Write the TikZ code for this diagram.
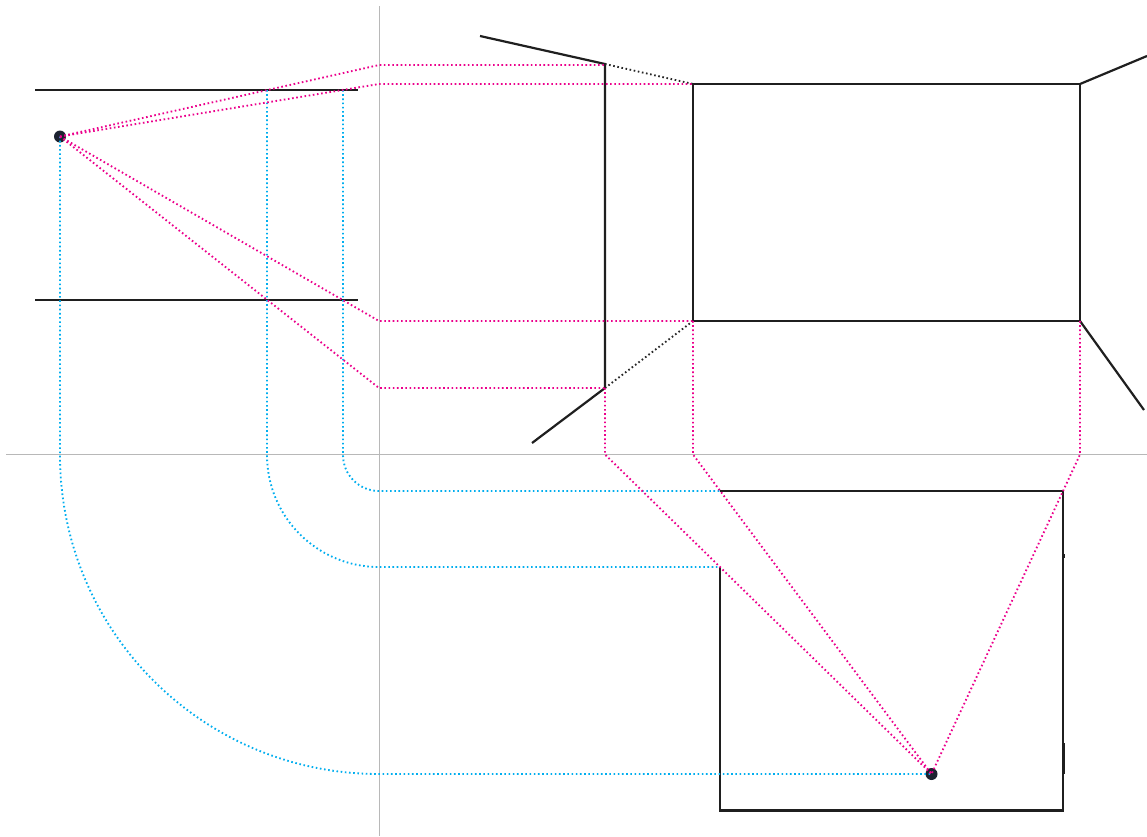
\documentclass[tikz,border=0pt]{standalone}
\tikzset{
  axisline/.style={draw=black!28,line width=0.8pt},
  solidline/.style={draw=black!88,line width=2.2pt,line cap=butt,line join=miter},
  dotbase/.style={line width=1.85pt,dash pattern=on 1.6pt off 2.6pt},
  pinkdots/.style={dotbase,draw=pinkc},
  bluedots/.style={dotbase,draw=bluec},
  blackdots/.style={dotbase,draw=black!85},
  eye/.style={circle,fill=eyec,inner sep=0pt,minimum size=12pt},
}
\definecolor{pinkc}{HTML}{EC008C}
\definecolor{bluec}{HTML}{00AEEF}
\definecolor{eyec}{HTML}{1C2230}
\begin{document}
\begin{tikzpicture}[x=1pt,y=-1pt]
\useasboundingbox (0,0) rectangle (1147,836);
\fill[white] (0,0) rectangle (1147,836);
% key points
\coordinate (P) at (60,136.5);
\coordinate (S) at (931.5,774);
\coordinate (t1) at (379,65);
\coordinate (t2) at (379,84);
\coordinate (t3) at (379,321);
\coordinate (t4) at (379,388);
\coordinate (w1) at (605,64);
\coordinate (w1p) at (605,65);
\coordinate (w2) at (605,388);
\coordinate (r1) at (693,84);
\coordinate (r2) at (1080,84);
\coordinate (r3) at (1080,321);
\coordinate (r4) at (693,321);
\coordinate (g1) at (605,454.5);
\coordinate (g2) at (693,454.5);
\coordinate (g3) at (1080,454.5);
\coordinate (v1) at (267,90);
\coordinate (v2) at (343,90);
\coordinate (a0) at (60,455);
\coordinate (a1) at (267,455);
\coordinate (a2) at (343,455);
\coordinate (f1) at (720,491);
\coordinate (f2) at (720,567);
\coordinate (f3) at (1063,491);
\coordinate (f4) at (1063,810.5);
\coordinate (f5) at (720,810.5);
% axes
\draw[axisline] (379,6) -- (379,836);
\draw[axisline] (6,454.5) -- (1147,454.5);
% solid lines
\draw[solidline] (35,90) -- (358,90);
\draw[solidline] (35,300) -- (358,300);
\draw[solidline] (480,36) -- (w1) -- (w2) -- (532,443);
\draw[solidline] (r1) -- (r2) -- (r3) -- (r4) -- cycle;
\draw[solidline] (r2) -- (1147,56);
\draw[solidline] (r3) -- (1144,410);
\draw[solidline] (f1) -- (f3) -- (f4) -- (f5) -- (f2);
\draw[solidline,line width=3pt] (1063,554) -- (1063,557.5);
\draw[solidline,line width=3pt] (1063,743) -- (1063,774);
\draw[blackdots] (w1) -- (r1);
\draw[blackdots] (w2) -- (r4);
% viewpoints
\node[eye] (eyeP) at (P) {};
\node[eye] (eyeS) at (S) {};
% blue projection
\draw[bluedots] (P) -- (a0) arc[start angle=180,end angle=90,radius=319] -- (S);
\draw[bluedots] (v1) -- (a1) arc[start angle=180,end angle=90,radius=112] -- (f2);
\draw[bluedots] (v2) -- (a2) arc[start angle=180,end angle=90,radius=36] -- (f1);
% pink projection
\draw[pinkdots] (P) -- (t1) -- (w1p);
\draw[pinkdots] (P) -- (t2) -- (r1);
\draw[pinkdots] (P) -- (t3) -- (r4);
\draw[pinkdots] (P) -- (t4) -- (w2);
\draw[pinkdots] (w2) -- (g1) -- (S);
\draw[pinkdots] (r4) -- (g2) -- (S);
\draw[pinkdots] (r3) -- (g3) -- (S);
\end{tikzpicture}
\end{document}
